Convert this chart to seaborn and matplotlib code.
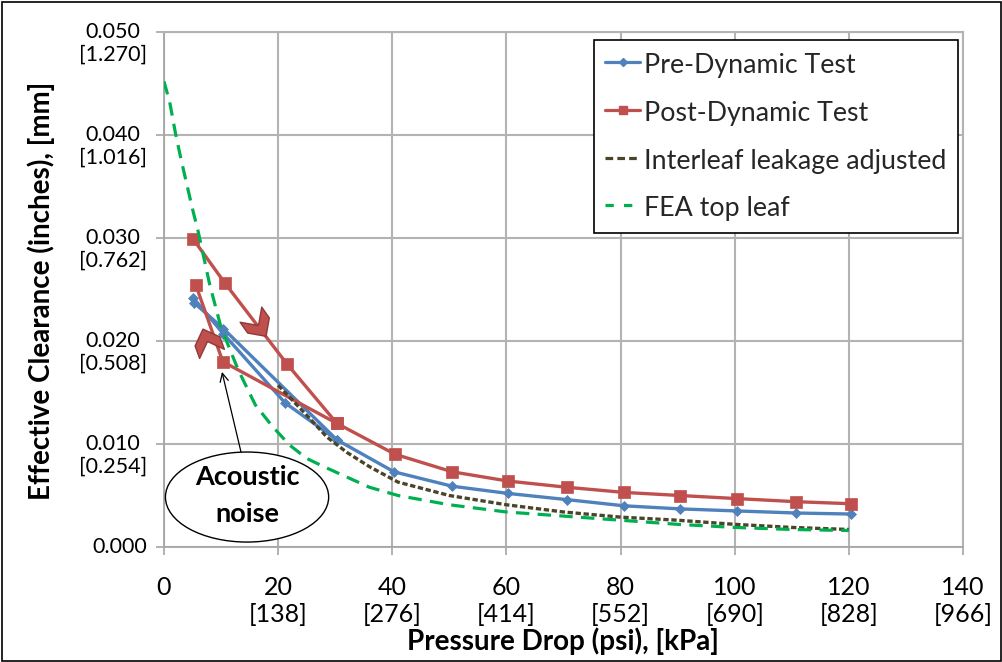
import numpy as np
import pandas as pd
import matplotlib
matplotlib.use("Agg")
import matplotlib.pyplot as plt
import seaborn as sns
from matplotlib.lines import Line2D
from matplotlib.patches import Ellipse, Rectangle
from matplotlib.path import Path
from matplotlib.markers import MarkerStyle
from matplotlib.transforms import Affine2D

sns.set_theme(style="white")
plt.rcParams["font.family"] = ["Lato", "DejaVu Sans"]

# ---------------- data ----------------
pre_x = [5.1, 10.4, 21.2, 30.3, 40.3, 50.5, 60.3, 70.6, 80.6, 90.4, 100.4, 110.7, 120.4]
pre_y = [0.0242, 0.0207, 0.0140, 0.0104, 0.0073, 0.0059, 0.0052, 0.0046, 0.0040, 0.0037, 0.0035, 0.0033, 0.0032]
pre_ret_x = [30.3, 10.4, 5.3]
pre_ret_y = [0.0104, 0.0212, 0.0237]

post_x = [5.1, 10.7, 21.5, 30.3, 40.5, 50.5, 60.3, 70.6, 80.6, 90.4, 100.4, 110.7, 120.4]
post_y = [0.0299, 0.0256, 0.0178, 0.0120, 0.0090, 0.0073, 0.0064, 0.0058, 0.0053, 0.0050, 0.0047, 0.0044, 0.0042]
post_ret_x = [30.3, 10.3, 5.6]
post_ret_y = [0.0120, 0.0180, 0.0254]

inter_x = [20, 25, 28.5, 32, 36, 41, 50, 60, 70, 80, 90, 100, 110, 120]
inter_y = [0.0157, 0.0128, 0.0107, 0.0092, 0.0078, 0.0063, 0.0050, 0.0041, 0.0034, 0.0029, 0.0026, 0.0022, 0.0019, 0.0017]

fea_x = [0, 1, 2, 3, 4, 5, 6, 8, 10, 13, 16, 19, 22, 25, 28, 32, 36, 41, 50, 60, 70, 80, 90, 100, 110, 120]
fea_y = [0.0452, 0.0432, 0.0402, 0.0376, 0.0352, 0.0328, 0.0306, 0.0255, 0.0213, 0.0172, 0.0138, 0.0117,
         0.0099, 0.0086, 0.0078, 0.0068, 0.0058, 0.0050, 0.0041, 0.0034, 0.0030, 0.0026, 0.0022, 0.0019,
         0.0017, 0.0016]

series_names = ["Pre-Dynamic Test", "Post-Dynamic Test", "Interleaf leakage adjusted", "FEA top leaf"]

x_ticks = [0, 20, 40, 60, 80, 100, 120, 140]
x_tick_labels = ["0", "20\n[138]", "40\n[276]", "60\n[414]", "80\n[552]", "100\n[690]", "120\n[828]", "140\n[966]"]
y_ticks = [0.000, 0.010, 0.020, 0.030, 0.040, 0.050]
y_tick_labels = ["0.000", "0.010\n[0.254]", "0.020\n[0.508]", "0.030\n[0.762]", "0.040\n[1.016]", "0.050\n[1.270]"]

x_label = "Pressure Drop (psi), [kPa]"
y_label = "Effective Clearance (inches), [mm]"

# direction chevrons (x, y, angle) and the callout
chev_x = [16.5, 7.5]
chev_y = [0.02155, 0.0200]
chev_ang = [-55, 110]
note_lines = ["Acoustic", "noise"]
note_center = (14.55, 0.00485)
note_size = (28.6, 0.00874)
note_text_y = [0.0060, 0.00243]
arrow_tip = (10.16, 0.0170)
arrow_tail = (13.5, 0.0092)

# ---------------- styles ----------------
c_pre = "#4F81BD"
c_post = "#C0504D"
c_inter = "#4A4529"
c_fea = "#00B050"
grid_c = "#b3b3b3"

W, H = 1003, 662
fig = plt.figure(figsize=(W / 100, H / 100), dpi=100)
ax = fig.add_axes([164 / W, 1 - 547 / H, 799 / W, 515 / H])

common = dict(ax=ax, sort=False, estimator=None, legend=False)
for xs, ys in [(pre_x, pre_y), (pre_ret_x, pre_ret_y)]:
    sns.lineplot(x=xs, y=ys, color=c_pre, lw=2.4, marker="D", markersize=5.5,
                 markeredgecolor=c_pre, markerfacecolor=c_pre, markeredgewidth=0.5, zorder=3, **common)
for xs, ys in [(post_x, post_y), (post_ret_x, post_ret_y)]:
    sns.lineplot(x=xs, y=ys, color=c_post, lw=2.4, marker="s", markersize=8,
                 markeredgecolor=c_post, markerfacecolor=c_post, markeredgewidth=0.5, zorder=4, **common)
sns.lineplot(x=inter_x, y=inter_y, color=c_inter, lw=2.4, zorder=5, **common)
ax.lines[-1].set_dashes((1.6, 0.8))
sns.lineplot(x=fea_x, y=fea_y, color=c_fea, lw=2.3, zorder=6, **common)
ax.lines[-1].set_dashes((4.2, 2.6))

# chevrons (thick ">" shape, rotated along the branch direction)
chev_verts = [(-1, 1), (0, 1), (1, 0), (0, -1), (-1, -1), (0, 0), (-1, 1)]
chev_codes = [Path.MOVETO] + [Path.LINETO] * 5 + [Path.CLOSEPOLY]
chev_path = Path(chev_verts, chev_codes)
for cx, cy, ca in zip(chev_x, chev_y, chev_ang):
    m = MarkerStyle(chev_path, transform=Affine2D().rotate_deg(ca))
    ax.plot([cx], [cy], marker=m, markersize=19, markerfacecolor=c_post,
            markeredgecolor="#8E3A37", markeredgewidth=1.0, linestyle="none", zorder=7)

# callout
ax.annotate("", xy=arrow_tip, xytext=arrow_tail,
            arrowprops=dict(arrowstyle="->,head_length=0.5,head_width=0.25", color="black",
                            lw=0.9, shrinkA=0, shrinkB=0), zorder=8)
ax.add_patch(Ellipse(note_center, note_size[0], note_size[1], facecolor="white",
                     edgecolor="black", lw=1.0, zorder=8))
for t, ty in zip(note_lines, note_text_y):
    ax.text(note_center[0], ty, t, ha="center", va="baseline", fontsize=19.5,
            fontweight="bold", color="black", zorder=9)

# axes
ax.set_xlim(0, 140)
ax.set_ylim(0, 0.050)
ax.set_xticks(x_ticks)
ax.set_xticklabels(x_tick_labels)
ax.set_yticks(y_ticks)
ax.set_yticklabels([])
ax.grid(True, color=grid_c, lw=1.5)
ax.set_axisbelow(True)
for s in ["left", "bottom"]:
    ax.spines[s].set_color("#a6a6a6")
    ax.spines[s].set_linewidth(1.3)
for s in ["top", "right"]:
    ax.spines[s].set_color(grid_c)
    ax.spines[s].set_linewidth(1.5)
ax.tick_params(axis="both", direction="out", length=6, width=1.2, color="#a6a6a6",
               bottom=True, left=True)
ax.tick_params(axis="x", pad=15, labelsize=18, labelcolor="black")
for lbl in ax.get_xticklabels():
    lbl.set_linespacing(1.2)
    lbl.set_fontfamily(["Lato", "DejaVu Sans"])

for v, t in zip(y_ticks, y_tick_labels):
    ax.annotate(t, xy=(0, v), xycoords=("axes fraction", "data"), xytext=(-12.2, 7),
                textcoords="offset points", ha="right", va="top", multialignment="center",
                fontsize=15.5, family=["Lato", "DejaVu Sans"], linespacing=1.15, color="black",
                annotation_clip=False)

fig.text(563 / W, 1 - 641 / H, x_label, ha="center", va="center", fontsize=20,
         fontweight="bold", color="black")
fig.text(41 / W, 1 - 291 / H, y_label, ha="center", va="center", rotation=90,
         fontsize=20, fontweight="bold", color="black")

# legend
handles = [
    Line2D([], [], color=c_pre, lw=2.3, marker="D", markersize=4, markeredgecolor=c_pre),
    Line2D([], [], color=c_post, lw=2.3, marker="s", markersize=5.5, markeredgecolor=c_post),
    Line2D([], [], color=c_inter, lw=2.3, dashes=(2.4, 1.3)),
    Line2D([], [], color=c_fea, lw=2.3, dashes=(2.6, 3.2)),
]
leg = ax.legend(handles, series_names, loc="upper right",
                bbox_to_anchor=(958 / W, 1 - 40 / H), bbox_transform=fig.transFigure,
                borderaxespad=0, frameon=True, fancybox=False, framealpha=1,
                edgecolor="black", fontsize=19.3, handlelength=1.3, handletextpad=0.15,
                handleheight=1.08, labelspacing=0.78, borderpad=0.42)
leg.get_frame().set_linewidth(1.2)
leg.set_zorder(10)

fig.patches.append(Rectangle((1.5 / W, 1.5 / H), 1 - 3 / W, 1 - 3 / H, transform=fig.transFigure,
                             fill=False, edgecolor="black", lw=1.2))

fig.savefig("out.png", dpi=100)
